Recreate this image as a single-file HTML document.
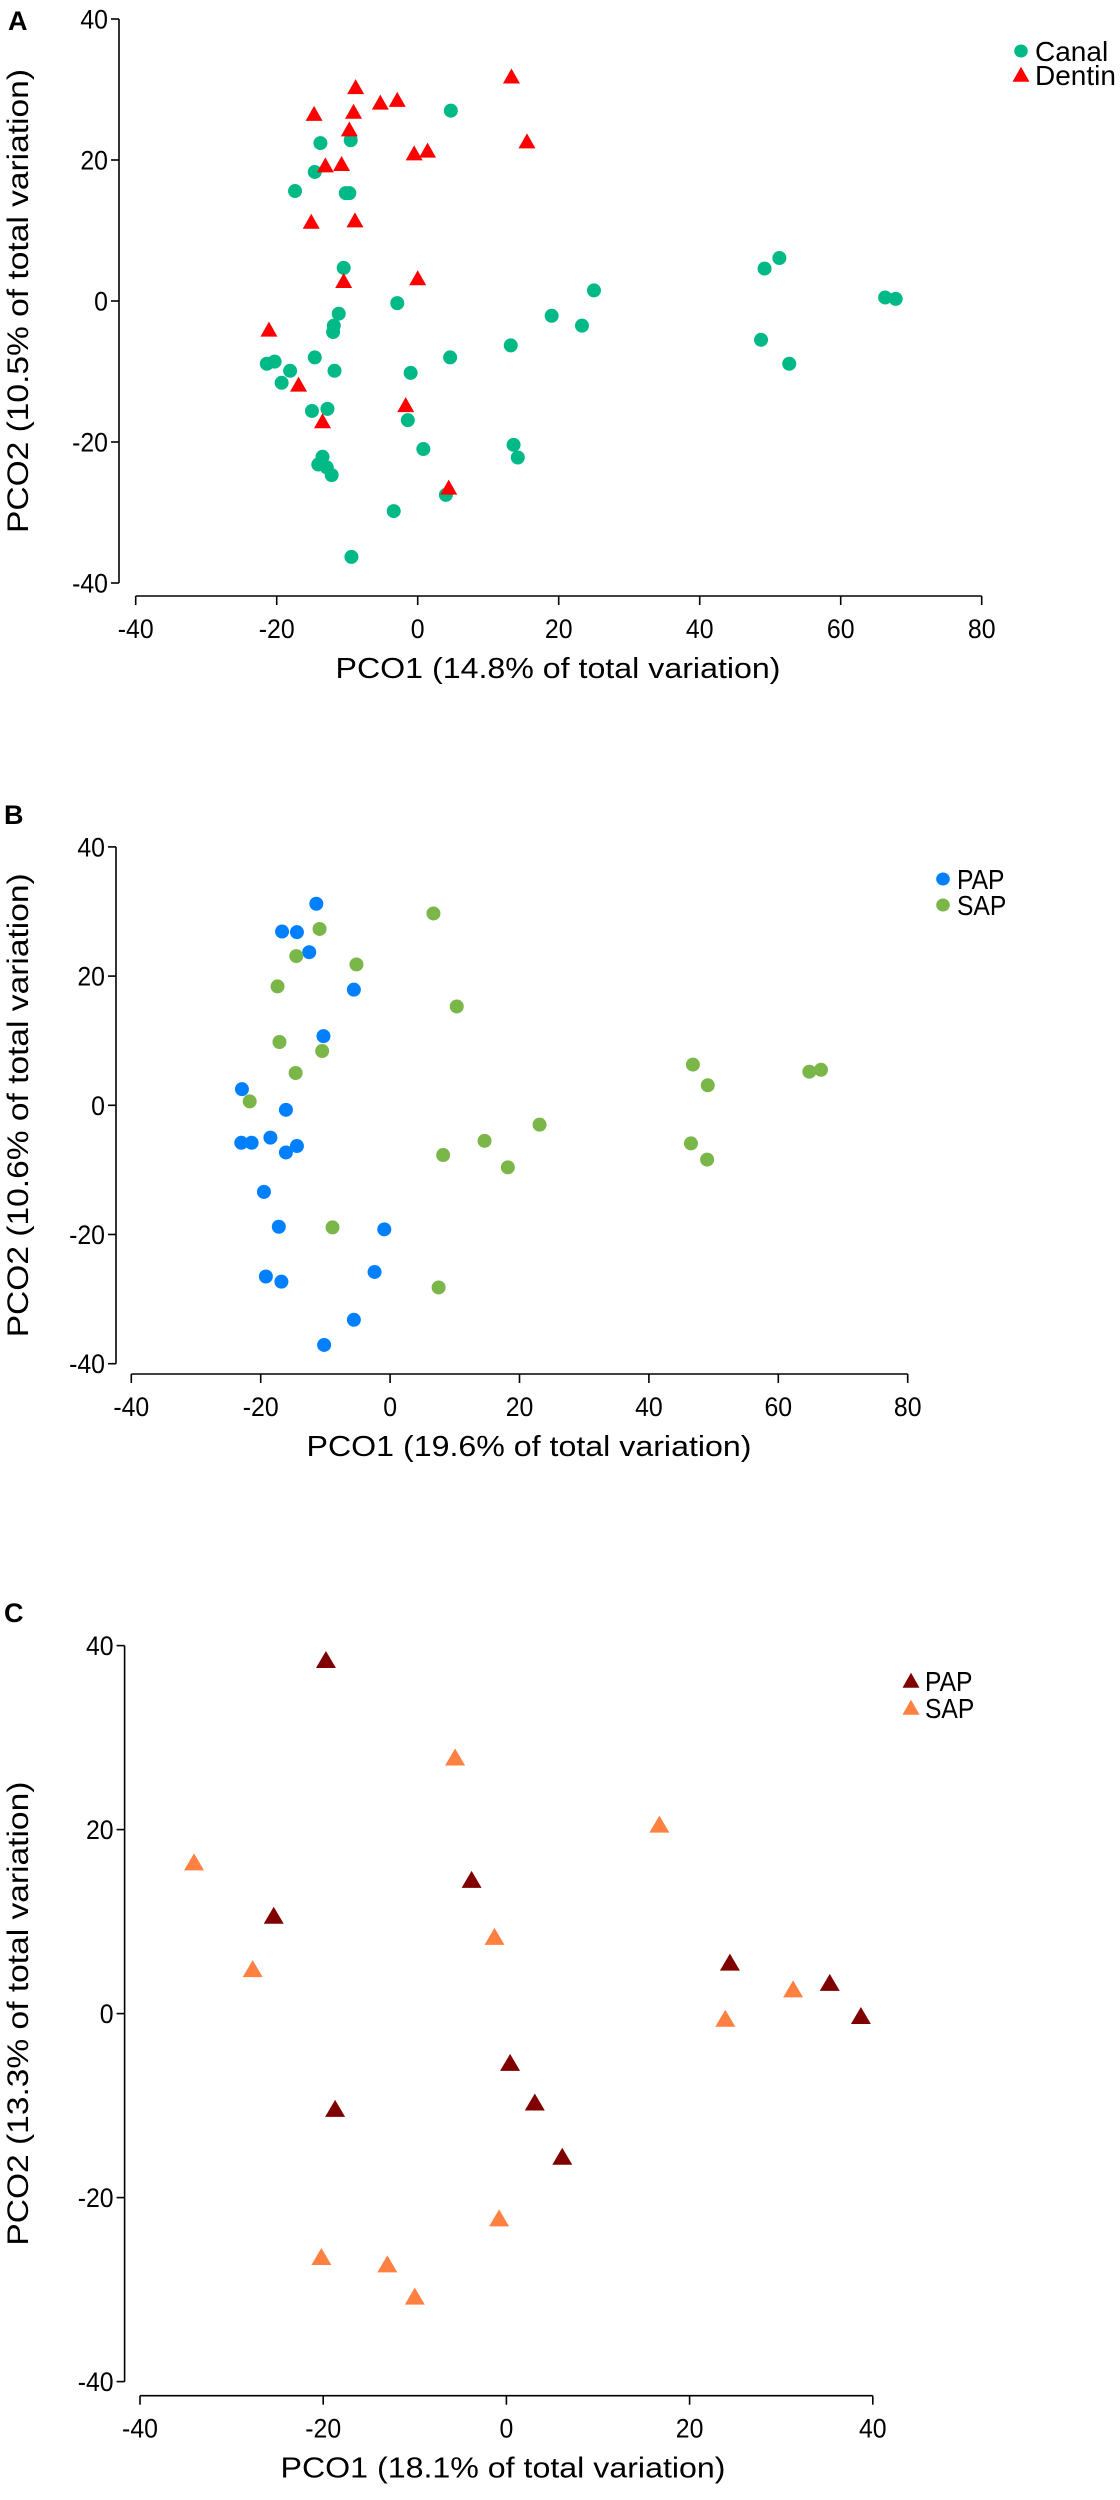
<!DOCTYPE html>
<html><head><meta charset="utf-8"><style>
html,body{margin:0;padding:0;background:#fff;}
svg{display:block;font-family:"Liberation Sans",Arial,sans-serif;}
</style></head><body>
<svg id="chart" width="1120" height="2500" viewBox="0 0 1120 2500" xmlns="http://www.w3.org/2000/svg"></svg>
<script>
// Panel A data
const aCanalX = [4.7,-13.8,-9.5,-14.6,-17.4,-10.2,-9.7,-10.5,-2.9,-11.2,-11.9,-12.0,25.0,19.0,23.3,13.2,4.6,-14.6,-21.4,-20.3,-18.1,-11.8,-1.0,-19.3,-15.0,-12.8,-1.4,0.8,13.6,14.2,-13.5,-14.1,-12.9,-12.2,4.0,-3.4,-9.4,51.3,49.2,66.3,67.8,48.7,52.7];
const aCanalY = [27.0,22.4,22.8,18.3,15.6,15.3,15.3,4.7,-0.3,-1.8,-3.5,-4.4,1.5,-2.1,-3.5,-6.3,-8.0,-8.0,-8.9,-8.6,-9.9,-9.9,-10.2,-11.6,-15.6,-15.3,-16.9,-21.0,-20.4,-22.2,-22.1,-23.2,-23.6,-24.7,-27.5,-29.8,-36.3,6.1,4.6,0.5,0.3,-5.5,-8.9];
const aDentinX = [-8.8,-5.3,-2.9,-14.7,-9.1,-9.7,13.3,15.5,-0.5,1.4,-13.1,-10.8,-15.1,-8.9,-10.5,0,-21.1,-16.9,-1.7,-13.5,4.4];
const aDentinY = [30.3,28.1,28.5,26.5,26.8,24.3,31.8,22.6,20.9,21.3,19.2,19.4,11.2,11.4,2.8,3.2,-4.1,-11.9,-14.8,-17.1,-26.5];
const aXTicks = [-40,-20,0,20,40,60,80];
const aYTicks = [40,20,0,-20,-40];
// Panel B data
const bPapX = [-11.4,-16.7,-14.4,-12.5,-5.6,-10.3,-22.9,-16.1,-18.5,-23.0,-21.4,-14.4,-16.1,-19.5,-17.2,-0.9,-2.4,-19.2,-16.8,-5.6,-10.2];
const bPapY = [31.2,26.9,26.8,23.7,17.9,10.7,2.5,-0.7,-5.0,-5.8,-5.8,-6.3,-7.3,-13.4,-18.8,-19.2,-25.8,-26.5,-27.3,-33.2,-37.1];
const bSapX = [6.7,-10.9,-14.5,-5.2,-17.4,10.3,-17.1,-10.5,-14.6,-21.7,23.1,14.6,8.2,18.2,-8.9,7.5,46.8,49.1,64.8,66.6,46.5,49.0];
const bSapY = [29.7,27.3,23.1,21.8,18.4,15.3,9.8,8.4,5.0,0.6,-3.0,-5.5,-7.7,-9.6,-18.9,-28.2,6.3,3.1,5.2,5.5,-5.9,-8.4];
const bXTicks = [-40,-20,0,20,40,60,80];
const bYTicks = [40,20,0,-20,-40];
// Panel C data
const cPapX = [-19.7,-3.8,-25.4,24.4,35.3,38.7,0.4,3.1,-18.7,6.1];
const cPapY = [38.4,14.5,10.6,5.5,3.3,-0.3,-5.4,-9.7,-10.4,-15.6];
const cSapX = [-5.6,16.7,-34.1,-1.3,-27.7,31.3,23.9,-0.8,-20.2,-13.0,-10.0];
const cSapY = [27.8,20.5,16.4,8.3,4.8,2.6,-0.6,-22.3,-26.5,-27.3,-30.8];
const cXTicks = [-40,-20,0,20,40];
const cYTicks = [40,20,0,-20,-40];

const NS = "http://www.w3.org/2000/svg";
const svg = document.getElementById('chart');
function mk(tag, attrs, parent){
  const e = document.createElementNS(NS, tag);
  for (const k in attrs) e.setAttribute(k, attrs[k]);
  (parent||svg).appendChild(e);
  return e;
}
function txt(s, x, y, size, anchor, parent, extra){
  const t = mk('text', Object.assign({x:x, y:y, 'font-size':size, 'text-anchor':anchor||'start', fill:'#000'}, extra||{}), parent);
  t.textContent = s;
  return t;
}
function tri(g, cx, cy, w, h, color){
  const p = (cx)+','+(cy-h*0.55)+' '+(cx-w/2)+','+(cy+h*0.45)+' '+(cx+w/2)+','+(cy+h*0.45);
  return mk('polygon', {points:p, fill:color}, g);
}
function panel(P){
  const g = mk('g', {});
  
  
  const sx = v => P.x0 + (v - P.xmin) * P.xu;
  const sy = v => P.y0 - v * P.yu;
  const L = txt(P.letter, P.letterX, P.letterY, 27, 'start', g, {'font-weight':'bold'});
  
  
  const yTop = sy(P.yTicks[0]), yBot = sy(P.yTicks[P.yTicks.length-1]);
  const ya = mk('line', {x1:P.yAxisX, y1:yTop, x2:P.yAxisX, y2:yBot, stroke:'#000', 'stroke-width':1.6}, g);
  
  
  P.yTicks.forEach(v => {
    const y = sy(v);
    mk('line', {x1:P.yAxisX-8, y1:y, x2:P.yAxisX, y2:y, stroke:'#000', 'stroke-width':1.6}, g);
    const t = txt(String(v), 0, 0, 27, 'end', g, {transform:'translate('+(P.yAxisX-11)+','+(y+9.5)+') scale(0.92,1)'});
    
    
  });
  const xL = sx(P.xTicks[0]), xR = sx(P.xTicks[P.xTicks.length-1]);
  const xa = mk('line', {x1:xL, y1:P.xAxisY, x2:xR, y2:P.xAxisY, stroke:'#000', 'stroke-width':1.6}, g);
  
  
  P.xTicks.forEach(v => {
    const x = sx(v);
    mk('line', {x1:x, y1:P.xAxisY, x2:x, y2:P.xAxisY+9, stroke:'#000', 'stroke-width':1.6}, g);
    const t = txt(String(v), 0, 0, 27, 'middle', g, {transform:'translate('+x+','+(P.xAxisY+42)+') scale(0.92,1)'});
    
    
  });
  const xt = txt(P.xTitle, P.xTitleX, P.xAxisY+82, 29, 'middle', g, {textLength:445, lengthAdjust:'spacingAndGlyphs'});
  
  
  const ymid = (yTop + yBot)/2;
  const yt = txt(P.yTitle, 0, 0, 30, 'middle', g, {transform:'translate(28,'+ymid+') rotate(-90)', textLength:464, lengthAdjust:'spacingAndGlyphs'});
  
  
  P.series.forEach((s, si) => {
    const sg = mk('g', {}, g);
    
    
    for (let i = 0; i < s.xs.length; i++) {
      const cx = sx(s.xs[i]), cy = sy(s.ys[i]);
      let m;
      if (s.shape === 'circle') m = mk('ellipse', {cx:cx, cy:cy, rx:P.r, ry:P.r, fill:s.color}, sg);
      else m = tri(sg, cx, cy, P.tw, P.th, s.color);
      
      
    }
    const ly = P.legY + si * P.legDy;
    const lg = mk('g', {}, g);
    
    
    if (s.shape === 'circle') mk('ellipse', {cx:P.legX, cy:ly, rx:6.8, ry:6.5, fill:s.color}, lg);
    else tri(lg, P.legX, ly, 17, 15, s.color);
    txt(s.label, 0, 0, 28, 'start', lg, {transform:'translate('+(P.legX+14)+','+(ly+10)+') scale('+P.legScale+',1)'});
  });
}
panel({name:'panel-a', letter:'A', letterX:8, letterY:30, xmin:-40, x0:135.7, xu:7.05, y0:301, yu:7.05,
  yAxisX:119, xAxisY:596, xTicks:aXTicks, yTicks:aYTicks, xTitleX:558,
  xTitle:'PCO1 (14.8% of total variation)', yTitle:'PCO2 (10.5% of total variation)',
  r:7, tw:17, th:15, legX:1021, legY:51, legDy:24, legScale:1,
  series:[{label:'Canal', shape:'circle', color:'#00b986', xs:aCanalX, ys:aCanalY},
          {label:'Dentin', shape:'tri', color:'#ff0000', xs:aDentinX, ys:aDentinY}]});
panel({name:'panel-b', letter:'B', letterX:4, letterY:824, xmin:-40, x0:131.3, xu:6.47, y0:1105.3, yu:6.46,
  yAxisX:116, xAxisY:1374, xTicks:bXTicks, yTicks:bYTicks, xTitleX:529,
  xTitle:'PCO1 (19.6% of total variation)', yTitle:'PCO2 (10.6% of total variation)',
  r:7, tw:17, th:15, legX:943, legY:879, legDy:26, legScale:0.88,
  series:[{label:'PAP', shape:'circle', color:'#0080ff', xs:bPapX, ys:bPapY},
          {label:'SAP', shape:'circle', color:'#7ab648', xs:bSapX, ys:bSapY}]});
panel({name:'panel-c', letter:'C', letterX:4, letterY:1622, xmin:-40, x0:140, xu:9.16, y0:2013.6, yu:9.2,
  yAxisX:124.6, xAxisY:2395.7, xTicks:cXTicks, yTicks:cYTicks, xTitleX:503,
  xTitle:'PCO1 (18.1% of total variation)', yTitle:'PCO2 (13.3% of total variation)',
  r:7, tw:20, th:17, legX:911, legY:1681, legDy:27, legScale:0.88,
  series:[{label:'PAP', shape:'tri', color:'#800000', xs:cPapX, ys:cPapY},
          {label:'SAP', shape:'tri', color:'#ff8040', xs:cSapX, ys:cSapY}]});
</script>
</body></html>
